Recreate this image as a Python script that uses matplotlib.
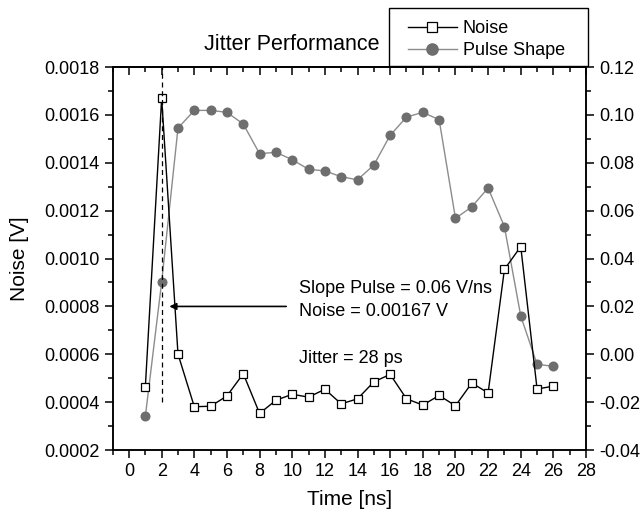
import numpy as np
import matplotlib
matplotlib.use("Agg")
import matplotlib.pyplot as plt
from matplotlib.ticker import MultipleLocator, FormatStrFormatter
from matplotlib.patches import Rectangle

plt.rcParams.update({
    "font.family": "Liberation Sans",
    "font.size": 13,
})

time_ns = list(range(1, 27))
noise_v = [0.000464, 0.00167, 0.000601, 0.000381, 0.000383, 0.000426, 0.000519,
           0.000353, 0.000408, 0.000433, 0.000421, 0.000454, 0.000393, 0.000414,
           0.000485, 0.000516, 0.000414, 0.000388, 0.000428, 0.000385, 0.000480,
           0.000439, 0.000955, 0.00105, 0.000455, 0.000467]
pulse_v = [-0.0259, 0.0302, 0.0945, 0.1019, 0.1019, 0.1011, 0.0962, 0.0838,
           0.0844, 0.0813, 0.0773, 0.0766, 0.0742, 0.0729, 0.0791, 0.0915,
           0.0991, 0.1011, 0.0980, 0.0568, 0.0616, 0.0695, 0.0533, 0.0160,
           -0.0042, -0.0050]

W, H = 644, 512
fig = plt.figure(figsize=(W / 100, H / 100), dpi=100)
ax = fig.add_axes([0.175, 0.121, 0.735, 0.748])
ax2 = ax.twinx()

# pulse drawn behind noise
ax2.plot(time_ns, pulse_v, '-', color='#8c8c8c', lw=1.0, marker='o', ms=6.2,
         mfc='#6e6e6e', mec='#6e6e6e', label='Pulse Shape', zorder=2)
ax.plot(time_ns, noise_v, '-', color='black', lw=1.0, marker='s', ms=5.4,
        mfc='white', mec='black', mew=0.9, label='Noise', zorder=3)
ax.set_zorder(ax2.get_zorder() + 1)
ax.patch.set_visible(False)

ax.set_xlim(-1, 28)
ax.set_ylim(0.0002, 0.0018)
ax2.set_ylim(-0.04, 0.12)

ax.xaxis.set_major_locator(MultipleLocator(2))
ax.xaxis.set_minor_locator(MultipleLocator(1))
ax.yaxis.set_major_locator(MultipleLocator(0.0002))
ax.yaxis.set_minor_locator(MultipleLocator(0.0001))
ax.yaxis.set_major_formatter(FormatStrFormatter('%.4f'))
ax2.yaxis.set_major_locator(MultipleLocator(0.02))
ax2.yaxis.set_minor_locator(MultipleLocator(0.01))
ax2.yaxis.set_major_formatter(FormatStrFormatter('%.2f'))

for a in (ax, ax2):
    for sp in a.spines.values():
        sp.set_linewidth(1.1)
    a.tick_params(which='major', direction='out', length=6, width=1.1, labelsize=13)
    a.tick_params(which='minor', direction='out', length=3.5, width=1.1)

top = ax.secondary_xaxis('top')
top.xaxis.set_major_locator(MultipleLocator(2))
top.xaxis.set_minor_locator(MultipleLocator(1))
top.tick_params(which='major', direction='in', length=6, width=1.1, labeltop=False)
top.tick_params(which='minor', direction='in', length=3.5, width=1.1)
top.spines['top'].set_linewidth(1.1)

ax.set_xlabel('Time [ns]', fontsize=15, labelpad=7)
ax.set_ylabel('Noise [V]', fontsize=15, labelpad=11)
fig.text(380 / W, 1 - 50 / H, 'Jitter Performance', ha='right', va='baseline',
         fontsize=15.5)

# annotations
ax.plot([2, 2], [0.0004, 0.0018], '--', color='black', lw=0.9,
        dashes=(4, 3), zorder=4)
ax.annotate('', xy=(2.3, 0.0008), xytext=(9.8, 0.0008),
            arrowprops=dict(arrowstyle='-|>', color='black', lw=1.2,
                            mutation_scale=10))
ax.text(10.4, 0.000857, 'Slope Pulse = 0.06 V/ns', ha='left', va='baseline', fontsize=13)
ax.text(10.4, 0.000760, 'Noise = 0.00167 V', ha='left', va='baseline', fontsize=13)
ax.text(10.4, 0.000565, 'Jitter = 28 ps', ha='left', va='baseline', fontsize=13)

# legend box drawn by hand so that it sits on the top spine
fig.patches.append(Rectangle((389 / W, 1 - 66 / H), 199 / W, 58 / H,
                             transform=fig.transFigure, facecolor='white',
                             edgecolor='black', lw=1.0, zorder=5))
h1, l1 = ax.get_legend_handles_labels()
h2, l2 = ax2.get_legend_handles_labels()
leg = fig.legend(h1 + h2, l1 + l2, loc='upper left',
                 bbox_to_anchor=(408 / W, 1 - 20 / H),
                 fontsize=13, frameon=False, handlelength=2.7,
                 borderpad=0, labelspacing=0.28, handletextpad=0.33,
                 borderaxespad=0, markerscale=1.3)
leg.set_zorder(6)

fig.savefig('out.png', dpi=100)
